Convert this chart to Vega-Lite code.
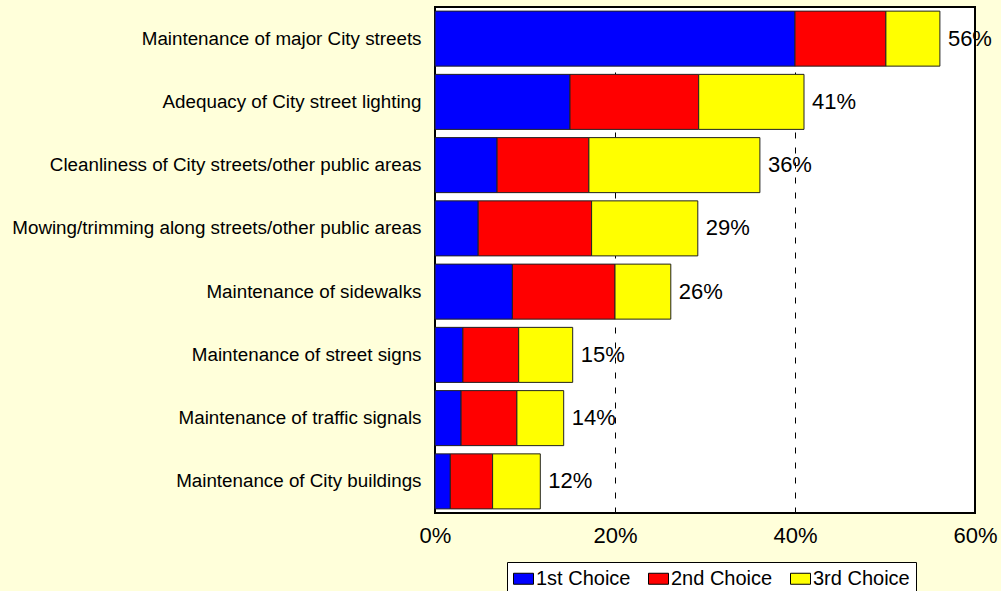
{
  "$schema": "https://vega.github.io/schema/vega-lite/v6.json",
  "width": 540,
  "height": 506,
  "autosize": {"type": "none"},
  "padding": {"left": 435, "top": 7, "right": 26, "bottom": 78},
  "background": "#FFFFDA",
  "config": {
    "font": "Liberation Sans",
    "view": {"fill": "white", "stroke": "black", "strokeWidth": 2}
  },
  "data": {
    "values": [
      {"category": "Maintenance of major City streets", "choice": "1st Choice", "rank": 1, "value": 0.400},
      {"category": "Maintenance of major City streets", "choice": "2nd Choice", "rank": 2, "value": 0.101},
      {"category": "Maintenance of major City streets", "choice": "3rd Choice", "rank": 3, "value": 0.060},
      {"category": "Adequacy of City street lighting", "choice": "1st Choice", "rank": 1, "value": 0.150},
      {"category": "Adequacy of City street lighting", "choice": "2nd Choice", "rank": 2, "value": 0.143},
      {"category": "Adequacy of City street lighting", "choice": "3rd Choice", "rank": 3, "value": 0.117},
      {"category": "Cleanliness of City streets/other public areas", "choice": "1st Choice", "rank": 1, "value": 0.069},
      {"category": "Cleanliness of City streets/other public areas", "choice": "2nd Choice", "rank": 2, "value": 0.102},
      {"category": "Cleanliness of City streets/other public areas", "choice": "3rd Choice", "rank": 3, "value": 0.190},
      {"category": "Mowing/trimming along streets/other public areas", "choice": "1st Choice", "rank": 1, "value": 0.048},
      {"category": "Mowing/trimming along streets/other public areas", "choice": "2nd Choice", "rank": 2, "value": 0.126},
      {"category": "Mowing/trimming along streets/other public areas", "choice": "3rd Choice", "rank": 3, "value": 0.118},
      {"category": "Maintenance of sidewalks", "choice": "1st Choice", "rank": 1, "value": 0.086},
      {"category": "Maintenance of sidewalks", "choice": "2nd Choice", "rank": 2, "value": 0.114},
      {"category": "Maintenance of sidewalks", "choice": "3rd Choice", "rank": 3, "value": 0.062},
      {"category": "Maintenance of street signs", "choice": "1st Choice", "rank": 1, "value": 0.031},
      {"category": "Maintenance of street signs", "choice": "2nd Choice", "rank": 2, "value": 0.062},
      {"category": "Maintenance of street signs", "choice": "3rd Choice", "rank": 3, "value": 0.060},
      {"category": "Maintenance of traffic signals", "choice": "1st Choice", "rank": 1, "value": 0.029},
      {"category": "Maintenance of traffic signals", "choice": "2nd Choice", "rank": 2, "value": 0.062},
      {"category": "Maintenance of traffic signals", "choice": "3rd Choice", "rank": 3, "value": 0.052},
      {"category": "Maintenance of City buildings", "choice": "1st Choice", "rank": 1, "value": 0.017},
      {"category": "Maintenance of City buildings", "choice": "2nd Choice", "rank": 2, "value": 0.047},
      {"category": "Maintenance of City buildings", "choice": "3rd Choice", "rank": 3, "value": 0.053}
    ]
  },
  "encoding": {
    "y": {
      "field": "category",
      "type": "nominal",
      "sort": null,
      "scale": {"paddingInner": 0.13, "paddingOuter": 0.065},
      "axis": {
        "title": null,
        "ticks": false,
        "domain": false,
        "labelFontSize": 18.8,
        "labelColor": "black",
        "labelPadding": 14,
        "labelLimit": 500
      }
    }
  },
  "layer": [
    {
      "mark": {"type": "bar", "stroke": "#222222", "strokeWidth": 1},
      "encoding": {
        "x": {
          "field": "value",
          "type": "quantitative",
          "stack": "zero",
          "scale": {"domain": [0, 0.6], "nice": false},
          "axis": {
            "title": null,
            "values": [0, 0.2, 0.4, 0.6],
            "format": ".0%",
            "ticks": false,
            "domain": false,
            "labelFontSize": 22,
            "labelColor": "black",
            "labelPadding": 12,
            "labelFlush": false,
            "grid": true,
            "gridColor": "black",
            "gridDash": [6, 9],
            "gridWidth": 1
          }
        },
        "color": {
          "field": "choice",
          "type": "nominal",
          "scale": {"domain": ["1st Choice", "2nd Choice", "3rd Choice"], "range": ["#0000FF", "#FF0000", "#FFFF00"]},
          "legend": {
            "title": null,
            "orient": "none",
            "legendX": 72,
            "legendY": 555,
            "direction": "horizontal",
            "fillColor": "white",
            "strokeColor": "black",
            "padding": 6,
            "labelFontSize": 20,
            "labelColor": "black",
            "labelOffset": 2,
            "columnPadding": 15,
            "symbolType": "M-1,-0.55H1V0.55H-1Z",
            "symbolSize": 400,
            "symbolStrokeColor": "black",
            "symbolStrokeWidth": 1,
            "symbolOpacity": 1
          }
        },
        "order": {"field": "rank", "type": "quantitative"}
      }
    },
    {
      "transform": [
        {"aggregate": [{"op": "sum", "field": "value", "as": "total"}], "groupby": ["category"]}
      ],
      "mark": {"type": "text", "align": "left", "baseline": "middle", "dx": 8, "fontSize": 22, "color": "black"},
      "encoding": {
        "x": {"field": "total", "type": "quantitative"},
        "text": {"field": "total", "type": "quantitative", "format": ".0%"}
      }
    }
  ]
}
